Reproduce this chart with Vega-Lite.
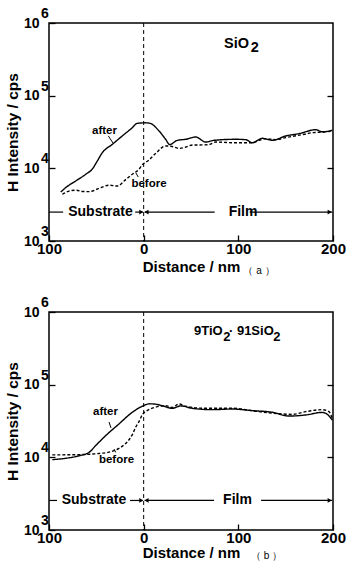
{
  "$schema": "https://vega.github.io/schema/vega-lite/v6.json",
  "background": "white",
  "padding": {"left": 4, "top": 6, "right": 6, "bottom": 0},
  "config": {
    "font": "Liberation Sans",
    "view": {"stroke": "black", "strokeWidth": 1.5},
    "axis": {"grid": false, "domain": false, "tickColor": "black", "tickWidth": 1.3, "labelColor": "black", "titleColor": "black", "labelFont": "Liberation Sans", "titleFont": "Liberation Sans", "labelFontWeight": "bold", "titleFontWeight": "bold"},
    "text": {"font": "Liberation Sans", "color": "black"}
  },
  "datasets": {
    "a_curves": [
      {"s": "after", "d": -87.6, "h": 4720}, {"s": "after", "d": -82.4, "h": 5420}, {"s": "after", "d": -71.8, "h": 6700},
      {"s": "after", "d": -61.2, "h": 8280}, {"s": "after", "d": -54.2, "h": 9800}, {"s": "after", "d": -49, "h": 12600},
      {"s": "after", "d": -43.7, "h": 16400}, {"s": "after", "d": -33.1, "h": 21400}, {"s": "after", "d": -22.6, "h": 27900},
      {"s": "after", "d": -12, "h": 36300}, {"s": "after", "d": -7, "h": 41500}, {"s": "after", "d": 2.1, "h": 42300},
      {"s": "after", "d": 7, "h": 41500}, {"s": "after", "d": 16.2, "h": 32700}, {"s": "after", "d": 23.2, "h": 25100},
      {"s": "after", "d": 27.5, "h": 21200}, {"s": "after", "d": 35.5, "h": 24300}, {"s": "after", "d": 44.4, "h": 25100},
      {"s": "after", "d": 55, "h": 27000}, {"s": "after", "d": 65.5, "h": 23000}, {"s": "after", "d": 74.3, "h": 24300},
      {"s": "after", "d": 97.2, "h": 25100}, {"s": "after", "d": 107.8, "h": 24800}, {"s": "after", "d": 114.8, "h": 22500},
      {"s": "after", "d": 125.3, "h": 25900}, {"s": "after", "d": 135.9, "h": 24300}, {"s": "after", "d": 150, "h": 27900},
      {"s": "after", "d": 164, "h": 30000}, {"s": "after", "d": 181.7, "h": 34000}, {"s": "after", "d": 188.7, "h": 31800},
      {"s": "after", "d": 199.3, "h": 33300},
      {"s": "before", "d": -85.9, "h": 4400}, {"s": "before", "d": -78, "h": 4900}, {"s": "before", "d": -71.8, "h": 5000},
      {"s": "before", "d": -64, "h": 4800}, {"s": "before", "d": -57.7, "h": 4780}, {"s": "before", "d": -47.2, "h": 5300},
      {"s": "before", "d": -36.6, "h": 5850}, {"s": "before", "d": -27.8, "h": 5700}, {"s": "before", "d": -19, "h": 7000},
      {"s": "before", "d": -12, "h": 8280}, {"s": "before", "d": -5, "h": 9700}, {"s": "before", "d": -1.4, "h": 11200},
      {"s": "before", "d": 5, "h": 12800}, {"s": "before", "d": 12.6, "h": 16000}, {"s": "before", "d": 23.2, "h": 20300},
      {"s": "before", "d": 30, "h": 20000}, {"s": "before", "d": 37.3, "h": 18800}, {"s": "before", "d": 44, "h": 19500},
      {"s": "before", "d": 51.4, "h": 20900}, {"s": "before", "d": 61.9, "h": 21000}, {"s": "before", "d": 69, "h": 21200},
      {"s": "before", "d": 76.1, "h": 23000}, {"s": "before", "d": 93.7, "h": 22500}, {"s": "before", "d": 100.7, "h": 22500},
      {"s": "before", "d": 114.8, "h": 22500}, {"s": "before", "d": 121, "h": 24000}, {"s": "before", "d": 128.9, "h": 25500},
      {"s": "before", "d": 139.5, "h": 24800}, {"s": "before", "d": 150, "h": 26500}, {"s": "before", "d": 157, "h": 27500},
      {"s": "before", "d": 170, "h": 29500}, {"s": "before", "d": 178.2, "h": 31000}, {"s": "before", "d": 190, "h": 31500},
      {"s": "before", "d": 199.3, "h": 32700}
    ],
    "b_curves": [
      {"s": "after", "d": -96.5, "h": 9290}, {"s": "after", "d": -82.4, "h": 9700}, {"s": "after", "d": -68.3, "h": 10500},
      {"s": "after", "d": -57.7, "h": 11700}, {"s": "after", "d": -50.7, "h": 14500}, {"s": "after", "d": -40.1, "h": 19900},
      {"s": "after", "d": -26.1, "h": 28800}, {"s": "after", "d": -12, "h": 41700}, {"s": "after", "d": -1.5, "h": 50400},
      {"s": "after", "d": 6, "h": 54500}, {"s": "after", "d": 12, "h": 54000}, {"s": "after", "d": 19.6, "h": 51400},
      {"s": "after", "d": 30.2, "h": 47300}, {"s": "after", "d": 39.1, "h": 51000}, {"s": "after", "d": 51.3, "h": 47300},
      {"s": "after", "d": 72.5, "h": 45300}, {"s": "after", "d": 93.7, "h": 46200}, {"s": "after", "d": 114.8, "h": 43900},
      {"s": "after", "d": 135.9, "h": 41700}, {"s": "after", "d": 153.5, "h": 37000}, {"s": "after", "d": 171.1, "h": 38300},
      {"s": "after", "d": 188.7, "h": 41500}, {"s": "after", "d": 194, "h": 39000}, {"s": "after", "d": 199.3, "h": 32500},
      {"s": "before", "d": -96.5, "h": 10800}, {"s": "before", "d": -68.3, "h": 10900}, {"s": "before", "d": -47.2, "h": 11300},
      {"s": "before", "d": -35, "h": 11900}, {"s": "before", "d": -26.1, "h": 13300}, {"s": "before", "d": -19, "h": 15500},
      {"s": "before", "d": -12, "h": 20500}, {"s": "before", "d": -8.4, "h": 26000}, {"s": "before", "d": -5, "h": 31000},
      {"s": "before", "d": -1.4, "h": 38500}, {"s": "before", "d": 5, "h": 45000}, {"s": "before", "d": 12.6, "h": 49000},
      {"s": "before", "d": 23.2, "h": 51400}, {"s": "before", "d": 30.2, "h": 48700}, {"s": "before", "d": 37.3, "h": 54200},
      {"s": "before", "d": 44.4, "h": 50400}, {"s": "before", "d": 65.5, "h": 47300}, {"s": "before", "d": 93.7, "h": 47300},
      {"s": "before", "d": 121.8, "h": 42500}, {"s": "before", "d": 146.4, "h": 39500}, {"s": "before", "d": 157, "h": 39000},
      {"s": "before", "d": 171.1, "h": 42500}, {"s": "before", "d": 188.7, "h": 45300}, {"s": "before", "d": 195.8, "h": 42500},
      {"s": "before", "d": 199.3, "h": 34000}
    ],
    "exponents": [
      {"d": -100, "h": 1000, "e": "3"}, {"d": -100, "h": 10000, "e": "4"},
      {"d": -100, "h": 100000, "e": "5"}, {"d": -100, "h": 1000000, "e": "6"}
    ]
  },
  "spacing": 18,
  "vconcat": [
    {
      "width": 284,
      "height": 218,
      "resolve": {"axis": {"y": "independent"}},
      "layer": [
        {
          "data": {"name": "a_curves"},
          "mark": {"type": "line", "color": "black", "strokeWidth": 1.4, "interpolate": "monotone"},
          "encoding": {
            "x": {"field": "d", "type": "quantitative", "scale": {"domain": [-100, 200], "nice": false, "zero": false},
              "axis": {"values": [-100, 0, 100, 200], "labelExpr": "'' + abs(datum.value)", "tickSize": -6, "labelPadding": 6, "labelFontSize": 15, "labelFlush": false, "title": "Distance / nm", "titleFontSize": 15, "titlePadding": 3}},
            "y": {"field": "h", "type": "quantitative", "scale": {"type": "log", "domain": [1000, 1000000], "nice": false},
              "axis": {"orient": "left", "values": [1000, 10000, 100000, 1000000], "labelExpr": "'10'", "tickSize": -6, "labelPadding": 16, "labelFontSize": 14, "title": "H Intensity / cps", "titleFontSize": 15.5, "titlePadding": 3}},
            "strokeDash": {"field": "s", "type": "nominal", "scale": {"domain": ["after", "before"], "range": [[1, 0], [3, 2]]}, "legend": null}
          }
        },
        {
          "data": {"values": [{"d": 0}]},
          "mark": {"type": "rule", "color": "black", "strokeWidth": 1, "strokeDash": [4, 3]},
          "encoding": {"x": {"field": "d", "type": "quantitative"}}
        },
        {
          "data": {"values": [
            {"d": -100, "d2": -85, "h": 2500},
            {"d": -9, "d2": -1, "h": 2500},
            {"d": 1, "d2": 75, "h": 2500},
            {"d": 112, "d2": 199, "h": 2500}
          ]},
          "mark": {"type": "rule", "color": "black", "strokeWidth": 1.2},
          "encoding": {
            "x": {"field": "d", "type": "quantitative"},
            "x2": {"field": "d2"},
            "y": {"field": "h", "type": "quantitative", "axis": {"orient": "right", "values": [10000, 100000], "labels": false, "tickSize": -6, "title": null}}
          }
        },
        {
          "data": {"values": [{"d": -2.5, "h": 2500}, {"d": 196.5, "h": 2500}]},
          "mark": {"type": "point", "shape": "triangle-right", "filled": true, "color": "black", "size": 22, "opacity": 1},
          "encoding": {"x": {"field": "d", "type": "quantitative"}, "y": {"field": "h", "type": "quantitative", "axis": null}}
        },
        {
          "data": {"values": [{"d": 3, "h": 2500}]},
          "mark": {"type": "point", "shape": "triangle-left", "filled": true, "color": "black", "size": 22, "opacity": 1},
          "encoding": {"x": {"field": "d", "type": "quantitative"}, "y": {"field": "h", "type": "quantitative", "axis": null}}
        },
        {
          "data": {"values": [{"d": -45.6, "h": 2500, "t": "Substrate"}, {"d": 105, "h": 2500, "t": "Film"}]},
          "mark": {"type": "text", "fontSize": 14, "fontWeight": "bold", "align": "center", "baseline": "middle"},
          "encoding": {"x": {"field": "d", "type": "quantitative"}, "y": {"field": "h", "type": "quantitative", "axis": null}, "text": {"field": "t"}}
        },
        {
          "data": {"values": [{"d": -41.4, "h": 32700, "t": "after"}, {"d": 5.6, "h": 6180, "t": "before"}]},
          "mark": {"type": "text", "fontSize": 11.5, "fontWeight": "bold", "align": "center", "baseline": "middle"},
          "encoding": {"x": {"field": "d", "type": "quantitative"}, "y": {"field": "h", "type": "quantitative", "axis": null}, "text": {"field": "t"}}
        },
        {
          "data": {"values": [
            {"d": -37.3, "h": 27900, "d2": -32.4, "h2": 22300},
            {"d": -8.4, "h": 8710, "d2": -5.7, "h2": 7600}
          ]},
          "mark": {"type": "rule", "color": "black", "strokeWidth": 1},
          "encoding": {"x": {"field": "d", "type": "quantitative"}, "y": {"field": "h", "type": "quantitative", "axis": null}, "x2": {"field": "d2"}, "y2": {"field": "h2"}}
        },
        {
          "data": {"values": [{"d": 84.9, "h": 514000, "t": "SiO"}]},
          "mark": {"type": "text", "fontSize": 14.5, "fontWeight": "bold", "align": "left", "baseline": "middle"},
          "encoding": {"x": {"field": "d", "type": "quantitative"}, "y": {"field": "h", "type": "quantitative", "axis": null}, "text": {"field": "t"}}
        },
        {
          "data": {"values": [{"d": 113, "h": 455000, "t": "2"}]},
          "mark": {"type": "text", "fontSize": 14.5, "fontWeight": "bold", "align": "left", "baseline": "middle"},
          "encoding": {"x": {"field": "d", "type": "quantitative"}, "y": {"field": "h", "type": "quantitative", "axis": null}, "text": {"field": "t"}}
        },
        {
          "data": {"name": "exponents"},
          "mark": {"type": "text", "fontSize": 14, "fontWeight": "bold", "align": "left", "baseline": "middle", "dx": -8, "dy": -9},
          "encoding": {"x": {"field": "d", "type": "quantitative"}, "y": {"field": "h", "type": "quantitative", "axis": null}, "text": {"field": "e"}}
        },
        {
          "data": {"values": [{"d": 121.8, "h": 1000, "t": "（ a ）"}]},
          "mark": {"type": "text", "fontSize": 10, "align": "center", "baseline": "middle", "dy": 30},
          "encoding": {"x": {"field": "d", "type": "quantitative"}, "y": {"field": "h", "type": "quantitative", "axis": null}, "text": {"field": "t"}}
        }
      ]
    },
    {
      "width": 284,
      "height": 218,
      "resolve": {"axis": {"y": "independent"}},
      "layer": [
        {
          "data": {"name": "b_curves"},
          "mark": {"type": "line", "color": "black", "strokeWidth": 1.4, "interpolate": "monotone"},
          "encoding": {
            "x": {"field": "d", "type": "quantitative", "scale": {"domain": [-100, 200], "nice": false, "zero": false},
              "axis": {"values": [-100, 0, 100, 200], "labelExpr": "'' + abs(datum.value)", "tickSize": -6, "labelPadding": 6, "labelFontSize": 15, "labelFlush": false, "title": "Distance / nm", "titleFontSize": 15, "titlePadding": 0}},
            "y": {"field": "h", "type": "quantitative", "scale": {"type": "log", "domain": [1000, 1000000], "nice": false},
              "axis": {"orient": "left", "values": [1000, 10000, 100000, 1000000], "labelExpr": "'10'", "tickSize": -6, "labelPadding": 16, "labelFontSize": 14, "title": "H Intensity / cps", "titleFontSize": 15.5, "titlePadding": 3}},
            "strokeDash": {"field": "s", "type": "nominal", "scale": {"domain": ["after", "before"], "range": [[1, 0], [3, 2]]}, "legend": null}
          }
        },
        {
          "data": {"values": [{"d": 0}]},
          "mark": {"type": "rule", "color": "black", "strokeWidth": 1, "strokeDash": [4, 3]},
          "encoding": {"x": {"field": "d", "type": "quantitative"}}
        },
        {
          "data": {"values": [
            {"d": -100, "d2": -91.5, "h": 2550},
            {"d": -14.4, "d2": -1, "h": 2550},
            {"d": 1, "d2": 74.3, "h": 2550},
            {"d": 124, "d2": 199, "h": 2550}
          ]},
          "mark": {"type": "rule", "color": "black", "strokeWidth": 1.2},
          "encoding": {
            "x": {"field": "d", "type": "quantitative"},
            "x2": {"field": "d2"},
            "y": {"field": "h", "type": "quantitative", "axis": {"orient": "right", "values": [10000, 100000], "labels": false, "tickSize": -6, "title": null}}
          }
        },
        {
          "data": {"values": [{"d": -2.5, "h": 2550}, {"d": 196.5, "h": 2550}]},
          "mark": {"type": "point", "shape": "triangle-right", "filled": true, "color": "black", "size": 22, "opacity": 1},
          "encoding": {"x": {"field": "d", "type": "quantitative"}, "y": {"field": "h", "type": "quantitative", "axis": null}}
        },
        {
          "data": {"values": [{"d": 3, "h": 2550}]},
          "mark": {"type": "point", "shape": "triangle-left", "filled": true, "color": "black", "size": 22, "opacity": 1},
          "encoding": {"x": {"field": "d", "type": "quantitative"}, "y": {"field": "h", "type": "quantitative", "axis": null}}
        },
        {
          "data": {"values": [{"d": -52.5, "h": 2550, "t": "Substrate"}, {"d": 99.1, "h": 2550, "t": "Film"}]},
          "mark": {"type": "text", "fontSize": 14, "fontWeight": "bold", "align": "center", "baseline": "middle"},
          "encoding": {"x": {"field": "d", "type": "quantitative"}, "y": {"field": "h", "type": "quantitative", "axis": null}, "text": {"field": "t"}}
        },
        {
          "data": {"values": [{"d": -40.3, "h": 42100, "t": "after"}, {"d": -28.7, "h": 9180, "t": "before"}]},
          "mark": {"type": "text", "fontSize": 11.5, "fontWeight": "bold", "align": "center", "baseline": "middle"},
          "encoding": {"x": {"field": "d", "type": "quantitative"}, "y": {"field": "h", "type": "quantitative", "axis": null}, "text": {"field": "t"}}
        },
        {
          "data": {"values": [
            {"d": -36.6, "h": 30600, "d2": -34.5, "h2": 25400},
            {"d": -31.3, "h": 13000, "d2": -29.5, "h2": 11700}
          ]},
          "mark": {"type": "rule", "color": "black", "strokeWidth": 1},
          "encoding": {"x": {"field": "d", "type": "quantitative"}, "y": {"field": "h", "type": "quantitative", "axis": null}, "x2": {"field": "d2"}, "y2": {"field": "h2"}}
        },
        {
          "data": {"values": [{"d": 53.2, "h": 548000, "t": "9TiO"}, {"d": 90.1, "h": 548000, "t": "· 91SiO"}]},
          "mark": {"type": "text", "fontSize": 13, "fontWeight": "bold", "align": "left", "baseline": "middle"},
          "encoding": {"x": {"field": "d", "type": "quantitative"}, "y": {"field": "h", "type": "quantitative", "axis": null}, "text": {"field": "t"}}
        },
        {
          "data": {"values": [{"d": 84, "h": 446000, "t": "2"}, {"d": 137, "h": 446000, "t": "2"}]},
          "mark": {"type": "text", "fontSize": 13, "fontWeight": "bold", "align": "left", "baseline": "middle"},
          "encoding": {"x": {"field": "d", "type": "quantitative"}, "y": {"field": "h", "type": "quantitative", "axis": null}, "text": {"field": "t"}}
        },
        {
          "data": {"name": "exponents"},
          "mark": {"type": "text", "fontSize": 14, "fontWeight": "bold", "align": "left", "baseline": "middle", "dx": -8, "dy": -9},
          "encoding": {"x": {"field": "d", "type": "quantitative"}, "y": {"field": "h", "type": "quantitative", "axis": null}, "text": {"field": "e"}}
        },
        {
          "data": {"values": [{"d": 129.8, "h": 1000, "t": "（ b ）"}]},
          "mark": {"type": "text", "fontSize": 10, "align": "center", "baseline": "middle", "dy": 26},
          "encoding": {"x": {"field": "d", "type": "quantitative"}, "y": {"field": "h", "type": "quantitative", "axis": null}, "text": {"field": "t"}}
        }
      ]
    }
  ]
}
